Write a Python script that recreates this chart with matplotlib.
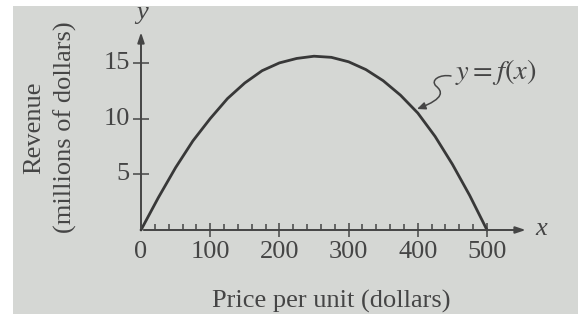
import numpy as np
import matplotlib.pyplot as plt
from matplotlib.patches import Rectangle, FancyArrowPatch
from matplotlib.path import Path

# revenue curve (price in dollars, revenue in millions)
price = [0, 25, 50, 75, 100, 125, 150, 175, 200, 225, 250, 275, 300, 325, 350, 375, 400, 425, 450, 475, 500]
revenue = [0, 2.9, 5.6, 8.0, 10.0, 11.8, 13.2, 14.3, 15.0, 15.4, 15.6, 15.5, 15.1, 14.4, 13.4, 12.1, 10.5, 8.4, 5.9, 3.1, 0]

x_major = [100, 200, 300, 400, 500]
x_labels = ["0", "100", "200", "300", "400", "500"]
y_major = [5, 10, 15]
y_labels = ["5", "10", "15"]

bg = "#d5d7d4"
ink = "#454545"
fs = 19
plt.rcParams["font.family"] = ["Liberation Serif", "DejaVu Serif"]
plt.rcParams["mathtext.fontset"] = "stix"

fig = plt.figure(figsize=(5.8, 3.2), dpi=100, facecolor="white")

ax = fig.add_axes([0, 0, 1, 1])
ax.set_facecolor("none")
# pixel -> data: x = (px - 141) / 0.692, y = (230 - py) / 11.14
ax.set_xlim(-141 / 0.692, (580 - 141) / 0.692)
ax.set_ylim(-90 / 11.14, 230 / 11.14)
ax.axis("off")
ax.add_patch(Rectangle((13 / 580, 6 / 320), 565 / 580, 308 / 320, transform=fig.transFigure,
                       facecolor=bg, edgecolor="none", zorder=-10))

def px(x, y):
    return ((x - 141) / 0.692, (230 - y) / 11.14)

# axes with arrows
ax.annotate("", xy=(560, 0), xytext=(0, 0),
            arrowprops=dict(arrowstyle="-|>,head_length=0.6,head_width=0.2", color=ink, lw=1.4))
ax.annotate("", xy=(0, 18.0), xytext=(0, -0.1),
            arrowprops=dict(arrowstyle="-|>,head_length=0.6,head_width=0.2", color=ink, lw=1.4))
ax.text(578, 0.1, "x", style="italic", fontsize=fs, color=ink, ha="center", va="center")
ax.text(1, 19.5, "y", style="italic", fontsize=fs, color=ink, ha="center", va="center")

# ticks
minor = [m for m in range(20, 500, 20) if m % 100 != 0]
ax.vlines(minor, 0, 0.5, color=ink, lw=1.1)
ax.vlines(x_major, -0.6, 0.6, color=ink, lw=1.1)
ax.hlines(y_major, -11, 11, color=ink, lw=1.1)

for v, lab in zip([0] + x_major, x_labels):
    ax.text(v, -2.0, lab, fontsize=fs, color=ink, ha="center", va="center")
for v, lab in zip(y_major, y_labels):
    ax.text(-16, v, lab, fontsize=fs, color=ink, ha="right", va="center")

# curve
ax.plot(price, revenue, color="#383838", lw=2.0, solid_capstyle="round", solid_joinstyle="round")

# labels
ax.text(-154, 9.2, "Revenue", rotation=90, fontsize=fs, color=ink, ha="center", va="center")
ax.text(-110, 9.2, "(millions of dollars)", rotation=90, fontsize=fs, color=ink, ha="center", va="center")
ax.text(275, -6.4, "Price per unit (dollars)", fontsize=fs, color=ink, ha="center", va="center")
ax.text(454, 14.2, "$y = f(x)$", fontsize=20.5, color=ink, ha="left", va="center")

# squiggly pointer
pts = [(451, 76), (440, 74), (430, 80), (436, 86),
       (442, 91), (446, 98), (417, 109)]
verts = [px(a, b) for a, b in pts]
codes = [Path.MOVETO, Path.CURVE4, Path.CURVE4, Path.CURVE4, Path.CURVE4, Path.CURVE4, Path.CURVE4]
ax.add_patch(FancyArrowPatch(path=Path(verts, codes),
                             arrowstyle="-|>,head_length=5,head_width=2.2", color=ink, lw=1.1))

fig.savefig("out.png", dpi=100, facecolor="white")
